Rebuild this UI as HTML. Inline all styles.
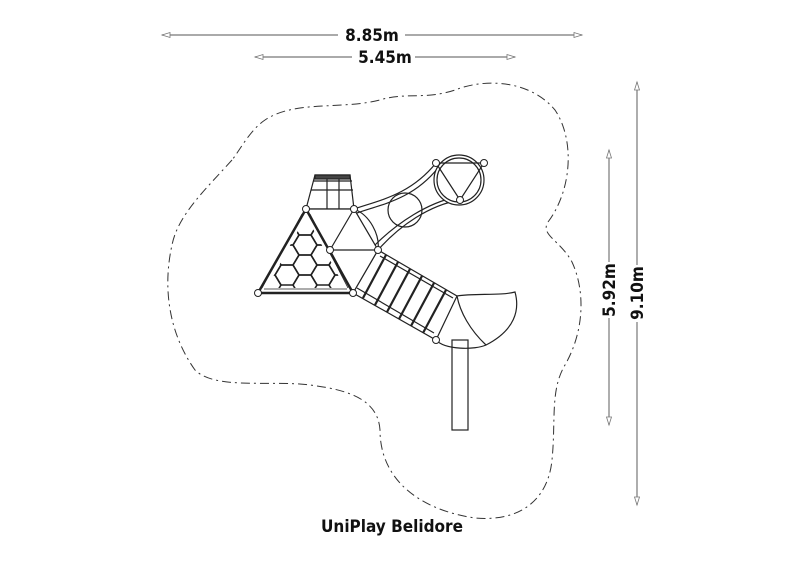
<!DOCTYPE html>
<html><head><style>body{margin:0;background:#fff}svg{display:block}</style></head><body>
<svg width="800" height="565" viewBox="0 0 800 565" xmlns="http://www.w3.org/2000/svg" font-family="'DejaVu Sans Condensed','Liberation Sans',sans-serif">
<defs>
<clipPath id="tri"><path d="M306 216 L267 288 L345 288 Z"/></clipPath>
<path id="hx" d="M-12 0 L-6 -10 L6 -10 L12 0 L6 10 L-6 10 Z"/>
</defs>
<g stroke="#777" stroke-width="1.2" fill="#fff">
<line x1="162" y1="35" x2="338" y2="35"/><line x1="405" y1="35" x2="582" y2="35"/>
<line x1="255" y1="57" x2="352" y2="57"/><line x1="415" y1="57" x2="515" y2="57"/>
<line x1="609" y1="150" x2="609" y2="262"/><line x1="609" y1="318" x2="609" y2="425"/>
<line x1="637" y1="82" x2="637" y2="265"/><line x1="637" y1="322" x2="637" y2="505"/>
<path d="M162 35 l8 -2.5 v5z M582 35 l-8 -2.5 v5z M255 57 l8 -2.5 v5z M515 57 l-8 -2.5 v5z M609 150 l-2.5 8 h5z M609 425 l-2.5 -8 h5z M637 82 l-2.5 8 h5z M637 505 l-2.5 -8 h5z" stroke-width="0.8"/>
</g>
<g font-size="17" font-weight="bold" fill="#111">
<text x="372" y="41" text-anchor="middle">8.85m</text>
<text x="385" y="63" text-anchor="middle">5.45m</text>
<text transform="translate(615,290) rotate(-90)" text-anchor="middle">5.92m</text>
<text transform="translate(643,293) rotate(-90)" text-anchor="middle">9.10m</text>
<text x="392" y="532" text-anchor="middle" font-size="17">UniPlay Belidore</text>
</g>
<path d="M232 160 C205 190 178 215 172 245 C162 290 170 335 195 370 C215 390 270 380 310 385 C350 390 378 400 380 430 C380 480 420 510 475 518 C520 522 548 500 552 460 C556 420 550 390 565 365 C585 330 585 290 572 262 C560 240 540 235 548 222 C572 190 575 140 555 110 C530 80 485 78 455 90 C425 100 405 92 380 100 C340 110 295 100 265 120 C250 130 240 150 232 160Z" fill="none" stroke="#333" stroke-width="1" stroke-dasharray="9 4 2 4"/>
<g stroke="#222" stroke-width="1.2" fill="#fff">
<rect x="452" y="340" width="16" height="90"/>
<path d="M354 209 C380 200 410 195 436 163 L460 200 C430 205 400 225 378 250 Z"/>
<path d="M357 213 C383 204 413 199 438 168 M375 245 C398 222 428 203 456 197" fill="none"/>
<circle cx="405" cy="210" r="17" fill="none"/>
<circle cx="459" cy="180" r="25"/>
<circle cx="459" cy="180" r="22" fill="none"/>
<path d="M436 163 L484 163 L460 200 Z M436 163 L460 200" fill="none"/>
<path d="M378 250 L457 296 L436 340 L353 293 Z"/>
<path d="M380 256 L453 298 M357 288 L434 333" fill="none"/>
<g stroke-width="2.2"><line x1="386" y1="255" x2="363" y2="298"/><line x1="398" y1="262" x2="375" y2="305"/><line x1="410" y1="269" x2="387" y2="312"/><line x1="422" y1="276" x2="399" y2="319"/><line x1="434" y1="283" x2="411" y2="326"/><line x1="446" y1="290" x2="423" y2="333"/></g>
<path d="M436 340 C445 350 475 350 486 345" fill="none"/>
<path d="M457 296 C475 293 500 296 515 292 C520 310 515 330 486 345 C470 330 460 312 457 296Z"/>
<path d="M315 175 L350 175 L354 209 L306 209 Z"/>
<path d="M311 190 h42 M327 175 v34 M339 175 v34 M313 181 h39" fill="none"/>
<rect x="315" y="175" width="35" height="4" fill="#444"/>
<path d="M306 209 L354 209 L378 250 L353 293 L258 293 Z"/>
<path d="M354 209 L330 250 L378 250 M330 250 L353 293 M354 209 C370 215 380 235 378 250" fill="none"/>
<g clip-path="url(#tri)" stroke-width="1.6" fill="none">
<use href="#hx" x="305" y="245"/><use href="#hx" x="305" y="265"/><use href="#hx" x="305" y="285"/><use href="#hx" x="305" y="225"/>
<use href="#hx" x="287" y="255"/><use href="#hx" x="287" y="275"/><use href="#hx" x="287" y="235"/>
<use href="#hx" x="323" y="255"/><use href="#hx" x="323" y="275"/><use href="#hx" x="323" y="235"/>
<use href="#hx" x="269" y="265"/><use href="#hx" x="269" y="285"/><use href="#hx" x="341" y="265"/><use href="#hx" x="341" y="285"/>
</g>
<path d="M306 209 L258 293 L353 293 Z" stroke-width="2.5" fill="none"/>
<path d="M302 214 L262 288 M310 214 L348 288 M264 289 L347 289" fill="none" stroke-width="0.8"/>
</g>
<g stroke="#222" fill="#fff" stroke-width="1"><circle cx="306" cy="209" r="3.5"/><circle cx="354" cy="209" r="3.5"/><circle cx="258" cy="293" r="3.5"/><circle cx="353" cy="293" r="3.5"/><circle cx="330" cy="250" r="3.5"/><circle cx="378" cy="250" r="3.5"/><circle cx="436" cy="163" r="3.5"/><circle cx="484" cy="163" r="3.5"/><circle cx="460" cy="200" r="3.5"/><circle cx="436" cy="340" r="3.5"/></g>
</svg>
</body></html>
